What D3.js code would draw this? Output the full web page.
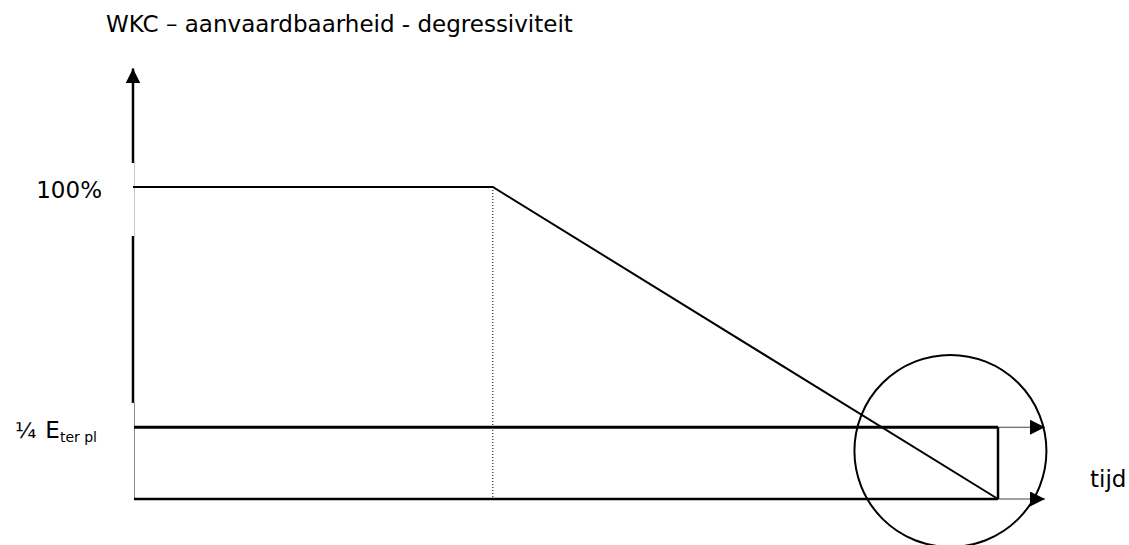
<!DOCTYPE html>
<html>
<head>
<meta charset="utf-8">
<script src="https://cdn.jsdelivr.net/npm/d3@7"></script>
<style>
  body { margin: 0; background: #fff; }
  text { font-family: "DejaVu Sans", sans-serif; fill: #000; }
</style>
</head>
<body>
<svg id="chart"></svg>
<script>
// Data (x = time in % of span, y = acceptance in %)
const degression = [
  { t: 0, v: 100 },
  { t: 41.6, v: 100 },
  { t: 100, v: 0 }
];
const floorLevel = 23;          // "¼ E_ter pl" level
const axisSolidParts = [[138, 107.7], [84.3, 30.8]];
const circleCenter = { t: 94.5, v: 15.4 };
const titleText = "WKC \u2013 aanvaardbaarheid - degressiviteit";
const xLabel = "tijd";

// Sizes
const width = 1129;
const height = 545;
const fontSize = 23;

const svg = d3.select("#chart")
    .attr("width", width)
    .attr("height", height)
    .attr("viewBox", [0, 0, width, height]);

const x = d3.scaleLinear().domain([0, 100]).range([133, 998]);
const y = d3.scaleLinear().domain([0, 100]).range([499, 187]);

// arrow marker
svg.append("defs").append("marker")
    .attr("id", "arrow")
    .attr("viewBox", "0 0 10 10")
    .attr("refX", 10).attr("refY", 5)
    .attr("markerUnits", "userSpaceOnUse")
    .attr("markerWidth", 15).attr("markerHeight", 15)
    .attr("orient", "auto")
  .append("path")
    .attr("d", "M0,0 L10,5 L0,10 Z")
    .attr("fill", "#000");

// title
svg.append("text")
    .attr("x", 106)
    .attr("y", 32)
    .attr("font-size", fontSize)
    .text(titleText);

// y axis: thin grey part over full length, solid parts on top
svg.append("line")
    .attr("x1", x(0) + 1.5).attr("x2", x(0) + 1.5)
    .attr("y1", y(axisSolidParts[0][1])).attr("y2", y(axisSolidParts[1][0]))
    .attr("stroke", "#c8c8c8").attr("stroke-width", 1);
svg.append("line")
    .attr("x1", x(0) + 1.5).attr("x2", x(0) + 1.5)
    .attr("y1", y(axisSolidParts[1][1])).attr("y2", y(0))
    .attr("stroke", "#8a8a8a").attr("stroke-width", 1);

svg.append("g")
  .selectAll("line")
  .data(axisSolidParts)
  .join("line")
    .attr("x1", x(0)).attr("x2", x(0))
    .attr("y1", d => y(d[1])).attr("y2", d => y(d[0]))
    .attr("stroke", "#000").attr("stroke-width", 2.5)
    .attr("marker-end", (d, i) => i === 0 ? "url(#arrow)" : null);

// dotted vertical at end of plateau
svg.append("line")
    .attr("x1", x(degression[1].t)).attr("x2", x(degression[1].t))
    .attr("y1", y(degression[1].v)).attr("y2", y(0))
    .attr("stroke", "#000").attr("stroke-width", 1)
    .attr("stroke-dasharray", "1,2");

// degression line
const line = d3.line().x(d => x(d.t)).y(d => y(d.v));
svg.append("path")
    .datum(degression)
    .attr("d", line)
    .attr("fill", "none")
    .attr("stroke", "#000")
    .attr("stroke-width", 2);

// floor and base lines
[floorLevel, 0].forEach((lvl, i) => {
  svg.append("line")
      .attr("x1", x(0) + 1).attr("x2", x(100))
      .attr("y1", y(lvl)).attr("y2", y(lvl))
      .attr("stroke", "#000").attr("stroke-width", i === 0 ? 3 : 2.5);
  svg.append("line")
      .attr("x1", x(100)).attr("x2", x(100) + 47)
      .attr("y1", y(lvl)).attr("y2", y(lvl))
      .attr("stroke", "#444").attr("stroke-width", 1.2)
      .attr("marker-end", "url(#arrow)");
});

// closing vertical
svg.append("line")
    .attr("x1", x(100)).attr("x2", x(100))
    .attr("y1", y(floorLevel)).attr("y2", y(0))
    .attr("stroke", "#000").attr("stroke-width", 2.5);

// circle
svg.append("circle")
    .attr("cx", x(circleCenter.t))
    .attr("cy", y(circleCenter.v))
    .attr("r", 96)
    .attr("fill", "none")
    .attr("stroke", "#000")
    .attr("stroke-width", 2);

// labels
svg.append("text")
    .attr("x", 102).attr("y", y(100) + 11)
    .attr("text-anchor", "end")
    .attr("font-size", fontSize)
    .text("100%");

const quarter = svg.append("text")
    .attr("x", 97).attr("y", y(floorLevel) + 11)
    .attr("text-anchor", "end")
    .attr("font-size", fontSize);
quarter.append("tspan").attr("font-size", 22).text("\u00BC");
quarter.append("tspan").attr("dx", 9).text("E");
quarter.append("tspan").attr("font-size", 14).attr("dy", 4).text("ter pl");

svg.append("text")
    .attr("x", 1090).attr("y", y(0) - 12)
    .attr("font-size", fontSize)
    .text(xLabel);
</script>
</body>
</html>
